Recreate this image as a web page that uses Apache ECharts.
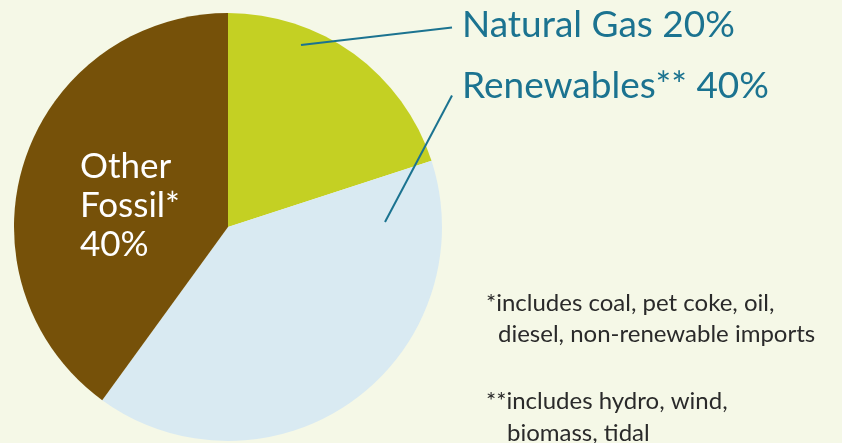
<!DOCTYPE html>
<html><head><meta charset="utf-8">
<script src="https://cdn.jsdelivr.net/npm/echarts@6/dist/echarts.min.js"></script>
<style>html,body{margin:0;padding:0;background:#f5f8e7;}#c{width:842px;height:443px;}</style>
</head><body><div id="c"></div>
<script>
const categories = ['Natural Gas', 'Renewables**', 'Other Fossil*'];
const shares = [20, 40, 40];
const sliceColors = ['#c4d023', '#d9eaf2', '#765109'];
const footnotes = ['*includes coal, pet coke, oil,', 'diesel, non-renewable imports', '**includes hydro, wind,', 'biomass, tidal'];

const chart = echarts.init(document.getElementById('c'), null, {renderer: 'canvas'});
const FONT = 'Lato';
const TEAL = '#1b7390';

const labelSpots = {
  0: {x: 462, y: 25},
  1: {x: 462, y: 86},
  2: {x: 80, y: 206}
};
const leaderLines = [
  [[301, 45], [452, 27.5]],
  [[452, 95.5], [385, 222]]
];
const footPos = [[486, 291.5], [498, 322.5], [486, 389.5], [507, 421.5]];

chart.setOption({
  backgroundColor: '#f5f8e7',
  animation: false,
  series: [{
    type: 'pie',
    center: [228, 227],
    radius: 214,
    startAngle: 90,
    clockwise: true,
    silent: true,
    data: categories.map((n, i) => ({
      name: n, value: shares[i],
      itemStyle: {color: sliceColors[i]},
      label: i === 2 ? {
        position: 'inside', color: '#ffffff', fontSize: 35, lineHeight: 39, align: 'left',
        formatter: p => p.name.replace(' ', '\n') + '\n' + p.value + '%'
      } : {
        position: 'outside', color: TEAL, fontSize: 37,
        formatter: p => p.name + ' ' + p.value + '%'
      },
      labelLine: {show: false}
    })),
    label: {fontFamily: FONT, fontWeight: 'normal'},
    labelLayout: p => {
      const s = labelSpots[p.dataIndex];
      return {x: s.x, y: s.y, align: 'left', verticalAlign: 'middle'};
    }
  }],
  graphic: [
    ...leaderLines.map(pts => ({
      type: 'polyline', z: 100,
      shape: {points: pts},
      style: {stroke: TEAL, lineWidth: 2, fill: null}
    })),
    ...footnotes.map((t, i) => ({
      type: 'text', x: footPos[i][0], y: footPos[i][1],
      style: {text: t, fill: '#2a2a2a', font: '24px Lato'}
    }))
  ]
});
</script></body></html>
